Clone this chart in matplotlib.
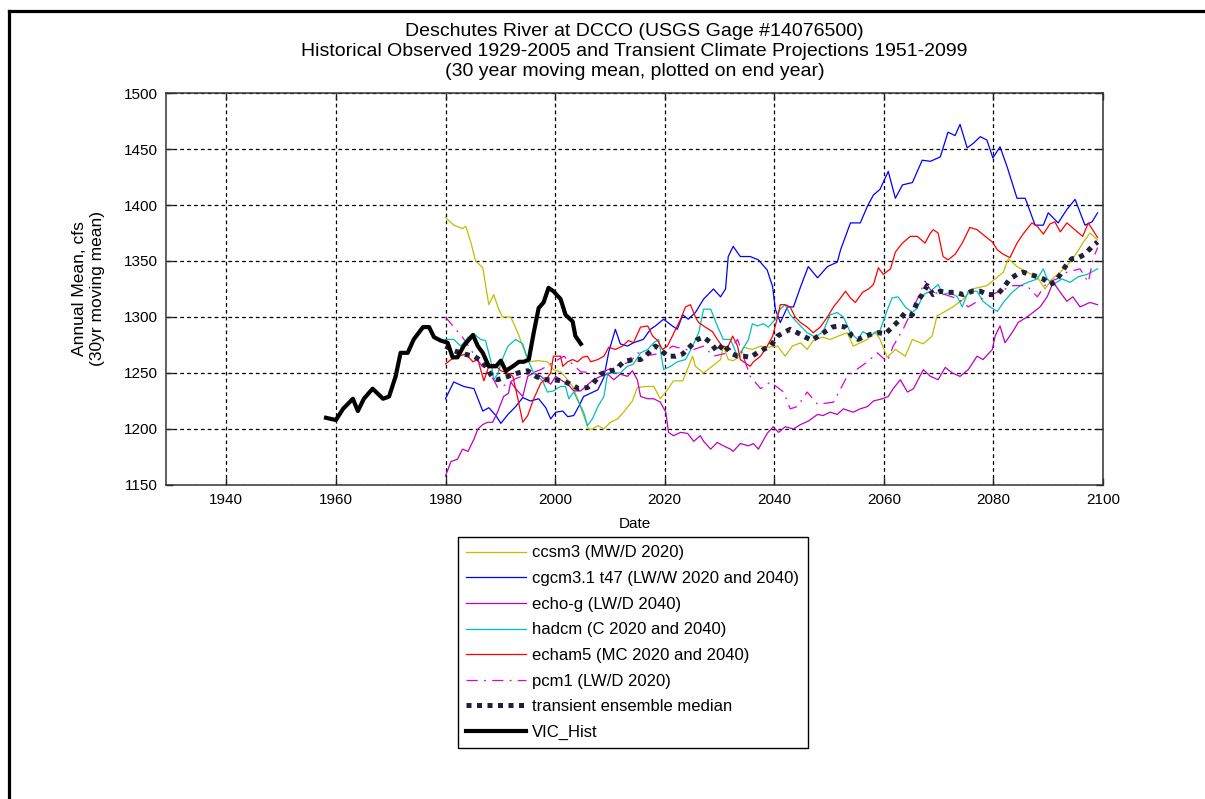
import matplotlib
matplotlib.use("Agg")
import matplotlib.pyplot as plt
from matplotlib.lines import Line2D

plt.rcParams['font.family'] = ['Liberation Sans', 'DejaVu Sans']

# ---- data (30 yr moving mean, cfs, plotted on end year) ----
vic_yr = [1958.2, 1960.0, 1961.3, 1963.1, 1964.0, 1965.1, 1966.7, 1968.6, 1969.7, 1970.9,
          1971.8, 1973.1, 1974.2, 1975.9, 1977.0, 1977.9, 1979.1, 1980.4, 1981.3, 1982.2,
          1983.3, 1985.0, 1985.9, 1986.8, 1987.9, 1989.2, 1990.1, 1991.0, 1992.3, 1993.4,
          1994.3, 1995.2, 1996.1, 1997.0, 1997.9, 1998.8, 1999.7, 2001.0, 2001.9, 2003.2,
          2003.7, 2004.7]
vic_q = [1210, 1208, 1218, 1227, 1216, 1227, 1236, 1227, 1229, 1247,
         1268, 1268, 1280, 1291, 1291, 1282, 1279, 1277, 1264, 1264,
         1274, 1284, 1274, 1268, 1256, 1256, 1261, 1252, 1256, 1260,
         1260, 1262, 1286, 1308, 1313, 1326, 1323, 1316, 1302, 1296,
         1283, 1276]

ccsm3_yr = [1980.0, 1981.5, 1983.1, 1983.7, 1984.6, 1985.5, 1986.8, 1987.3, 1987.9, 1988.8,
            1989.7, 1990.4, 1991.9, 1993.2, 1994.3, 1995.2, 1996.8, 1998.6, 1999.7, 2001.0,
            2002.3, 2003.2, 2004.1, 2005.2, 2006.1, 2006.8, 2007.8, 2008.9, 2010.1, 2011.4,
            2012.5, 2014.1, 2015.0, 2016.5, 2018.0, 2019.2, 2020.5, 2021.6, 2023.3, 2025.1,
            2025.6, 2027.1, 2028.4, 2030.2, 2030.7, 2031.6, 2032.5, 2033.8, 2034.4, 2036.0,
            2037.5, 2038.9, 2040.6, 2042.0, 2043.3, 2044.8, 2046.0, 2047.1, 2048.8, 2050.2,
            2051.7, 2053.3, 2054.4, 2055.7, 2057.0, 2058.4, 2059.3, 2060.6, 2062.1, 2063.9,
            2065.2, 2067.2, 2068.8, 2069.7, 2071.2, 2072.6, 2074.5, 2076.1, 2078.8, 2080.3,
            2081.8, 2082.7, 2084.3, 2086.1, 2088.0, 2089.4, 2090.7, 2092.2, 2094.0, 2095.3,
            2096.3, 2097.6, 2099.0]
ccsm3_q = [1389, 1382, 1379, 1381, 1367, 1350, 1344, 1329, 1311, 1320,
           1307, 1300, 1300, 1286, 1271, 1260, 1261, 1260, 1253, 1251,
           1244, 1238, 1227, 1212, 1200, 1200, 1203, 1200, 1206, 1209,
           1215, 1225, 1237, 1238, 1238, 1227, 1235, 1243, 1243, 1265,
           1256, 1250, 1255, 1262, 1274, 1262, 1261, 1265, 1273, 1271,
           1274, 1273, 1274, 1265, 1274, 1277, 1271, 1279, 1282, 1280,
           1283, 1286, 1274, 1277, 1280, 1287, 1280, 1264, 1271, 1265,
           1280, 1276, 1283, 1301, 1305, 1309, 1316, 1325, 1328, 1334,
           1340, 1352, 1345, 1340, 1336, 1325, 1334, 1340, 1349, 1358,
           1366, 1375, 1369]

cgcm_yr = [1980.0, 1981.5, 1983.3, 1985.2, 1986.8, 1987.9, 1989.2, 1990.1, 1991.4, 1992.8,
           1994.1, 1995.5, 1997.0, 1998.3, 1999.2, 2000.1, 2001.4, 2002.3, 2003.4, 2004.3,
           2005.2, 2006.5, 2007.8, 2008.9, 2009.8, 2011.0, 2011.9, 2013.2, 2014.3, 2016.1,
           2017.4, 2018.3, 2019.8, 2021.4, 2022.3, 2023.3, 2024.3, 2025.6, 2027.1, 2028.9,
           2030.2, 2031.1, 2031.6, 2032.5, 2033.8, 2035.6, 2037.1, 2038.7, 2039.7, 2040.2,
           2041.1, 2042.4, 2043.5, 2044.8, 2046.2, 2047.9, 2049.7, 2051.5, 2052.1, 2053.9,
           2055.7, 2057.0, 2058.1, 2059.3, 2060.8, 2062.1, 2063.4, 2065.2, 2067.0, 2068.5,
           2070.3, 2071.7, 2073.0, 2073.9, 2075.2, 2076.3, 2077.6, 2078.8, 2079.9, 2081.2,
           2082.5, 2084.3, 2085.8, 2087.6, 2089.1, 2090.0, 2091.8, 2093.4, 2094.9, 2096.7,
           2098.0, 2099.0]
cgcm_q = [1227, 1242, 1238, 1236, 1216, 1219, 1212, 1205, 1213, 1220,
          1228, 1225, 1227, 1219, 1209, 1215, 1216, 1211, 1212, 1220,
          1229, 1232, 1235, 1246, 1269, 1289, 1276, 1274, 1277, 1280,
          1289, 1292, 1298, 1292, 1289, 1302, 1298, 1304, 1316, 1325,
          1318, 1325, 1354, 1363, 1354, 1354, 1351, 1342, 1327, 1307,
          1295, 1309, 1309, 1327, 1345, 1335, 1345, 1349, 1360, 1384,
          1384, 1399, 1409, 1414, 1430, 1406, 1418, 1420, 1440, 1439,
          1443, 1465, 1462, 1472, 1451, 1455, 1461, 1458, 1442, 1452,
          1434, 1406, 1406, 1382, 1382, 1393, 1384, 1396, 1405, 1382,
          1385, 1393]

echog_yr = [1980.0, 1981.0, 1982.2, 1983.1, 1984.1, 1985.2, 1985.9, 1986.8, 1987.7, 1988.6,
            1989.5, 1990.6, 1991.5, 1991.9, 1992.8, 1994.1, 1995.0, 1996.1, 1997.4, 1999.2,
            2000.1, 2001.0, 2002.3, 2003.4, 2004.7, 2005.6, 2007.0, 2008.3, 2009.6, 2010.7,
            2011.9, 2013.2, 2014.1, 2015.0, 2015.6, 2016.9, 2018.0, 2019.2, 2020.2, 2020.7,
            2021.6, 2022.9, 2024.2, 2025.3, 2026.5, 2027.1, 2028.4, 2029.6, 2030.7, 2032.0,
            2032.5, 2033.8, 2035.3, 2036.2, 2037.1, 2038.7, 2039.8, 2040.8, 2042.0, 2043.5,
            2044.8, 2046.2, 2047.9, 2048.9, 2050.2, 2051.5, 2052.6, 2054.4, 2055.7, 2057.0,
            2058.1, 2059.7, 2060.8, 2061.7, 2063.0, 2064.3, 2065.4, 2067.2, 2068.5, 2069.9,
            2071.2, 2072.5, 2073.9, 2075.4, 2077.0, 2078.1, 2079.8, 2080.3, 2081.2, 2082.1,
            2083.4, 2084.5, 2086.1, 2087.2, 2088.5, 2089.8, 2090.9, 2092.5, 2093.4, 2094.5,
            2095.8, 2097.6, 2099.0]
echog_q = [1158, 1171, 1173, 1182, 1180, 1191, 1200, 1204, 1206, 1206,
           1215, 1229, 1232, 1242, 1236, 1229, 1247, 1250, 1247, 1240,
           1247, 1244, 1240, 1234, 1234, 1238, 1244, 1247, 1249, 1244,
           1249, 1247, 1252, 1244, 1229, 1227, 1227, 1224, 1215, 1197,
           1194, 1197, 1196, 1189, 1194, 1189, 1182, 1188, 1185, 1182,
           1180, 1187, 1185, 1187, 1182, 1196, 1202, 1197, 1202, 1200,
           1204, 1207, 1213, 1212, 1215, 1213, 1218, 1215, 1218, 1220,
           1225, 1227, 1229, 1236, 1244, 1233, 1236, 1253, 1247, 1244,
           1255, 1250, 1247, 1253, 1265, 1262, 1271, 1283, 1292, 1277,
           1286, 1295, 1300, 1304, 1309, 1318, 1331, 1320, 1314, 1318,
           1309, 1313, 1311]

hadcm_yr = [1980.0, 1981.5, 1982.8, 1984.1, 1985.2, 1986.4, 1987.3, 1988.3, 1988.8, 1989.5,
            1990.6, 1991.4, 1992.8, 1994.1, 1995.0, 1996.1, 1997.7, 1998.6, 1999.7, 2001.0,
            2001.9, 2002.5, 2003.4, 2004.3, 2005.2, 2005.9, 2006.8, 2007.8, 2008.9, 2009.6,
            2010.7, 2011.9, 2013.2, 2014.3, 2015.6, 2016.9, 2018.0, 2018.9, 2019.8, 2021.1,
            2022.3, 2023.8, 2025.1, 2026.2, 2027.1, 2028.4, 2029.6, 2030.7, 2032.0, 2033.3,
            2034.2, 2035.3, 2036.0, 2036.9, 2038.0, 2038.9, 2040.2, 2041.1, 2042.0, 2042.9,
            2044.2, 2046.0, 2047.5, 2048.9, 2050.2, 2051.5, 2052.6, 2053.9, 2055.2, 2056.2,
            2057.5, 2058.8, 2059.3, 2060.6, 2061.5, 2062.6, 2063.9, 2065.2, 2066.1, 2067.2,
            2068.5, 2069.9, 2070.8, 2072.1, 2073.4, 2074.3, 2075.4, 2077.0, 2078.1, 2079.4,
            2080.7, 2081.8, 2083.4, 2084.9, 2086.3, 2088.0, 2089.1, 2089.8, 2090.9, 2092.5,
            2094.0, 2095.5, 2097.1, 2099.0]
hadcm_q = [1280, 1280, 1274, 1282, 1285, 1280, 1279, 1260, 1244, 1249,
           1265, 1274, 1280, 1276, 1262, 1250, 1243, 1233, 1234, 1238,
           1238, 1227, 1233, 1224, 1215, 1203, 1209, 1220, 1229, 1250,
           1250, 1250, 1256, 1258, 1268, 1271, 1277, 1280, 1253, 1256,
           1260, 1262, 1274, 1286, 1307, 1307, 1292, 1280, 1280, 1265,
           1271, 1280, 1294, 1292, 1294, 1291, 1298, 1307, 1311, 1302,
           1295, 1286, 1282, 1287, 1302, 1304, 1300, 1286, 1280, 1287,
           1283, 1287, 1288, 1306, 1317, 1318, 1309, 1304, 1308, 1320,
           1323, 1329, 1320, 1322, 1318, 1309, 1323, 1323, 1314, 1309,
           1305, 1313, 1322, 1328, 1331, 1334, 1343, 1334, 1329, 1334,
           1331, 1336, 1338, 1343]

echam5_yr = [1980.0, 1981.0, 1982.4, 1983.7, 1985.0, 1985.9, 1987.0, 1987.9, 1988.8, 1990.1,
             1991.4, 1992.3, 1993.2, 1994.1, 1995.0, 1996.1, 1997.4, 1998.6, 1999.2, 1999.7,
             2001.0, 2001.4, 2002.3, 2003.2, 2004.1, 2005.0, 2005.9, 2006.5, 2007.8, 2008.9,
             2009.8, 2011.0, 2012.3, 2013.4, 2014.3, 2015.6, 2016.9, 2017.8, 2018.7, 2019.6,
             2020.5, 2021.6, 2022.9, 2023.8, 2024.7, 2025.6, 2026.2, 2027.4, 2028.7, 2029.6,
             2030.5, 2031.5, 2032.4, 2033.3, 2033.8, 2034.4, 2035.6, 2036.2, 2037.5, 2038.7,
             2039.7, 2040.6, 2041.1, 2042.0, 2042.9, 2043.8, 2044.8, 2046.0, 2047.1, 2048.4,
             2049.7, 2050.8, 2052.1, 2053.0, 2053.9, 2054.8, 2056.1, 2057.2, 2058.1, 2059.0,
             2059.9, 2061.2, 2062.1, 2063.4, 2064.8, 2066.1, 2067.5, 2068.5, 2069.0, 2069.9,
             2070.8, 2071.7, 2073.0, 2074.3, 2075.7, 2077.0, 2078.5, 2079.8, 2080.7, 2081.8,
             2083.0, 2084.3, 2085.4, 2087.0, 2088.0, 2089.1, 2090.3, 2091.2, 2092.2, 2093.4,
             2095.3, 2096.3, 2097.3, 2099.0]
echam5_q = [1258, 1262, 1265, 1267, 1260, 1262, 1243, 1256, 1258, 1252,
            1250, 1247, 1227, 1206, 1212, 1227, 1241, 1246, 1250, 1265,
            1265, 1256, 1260, 1262, 1260, 1264, 1265, 1260, 1262, 1265,
            1273, 1271, 1274, 1279, 1277, 1291, 1292, 1283, 1279, 1271,
            1274, 1285, 1298, 1309, 1311, 1300, 1295, 1291, 1287, 1280,
            1274, 1273, 1283, 1274, 1262, 1260, 1256, 1260, 1265, 1274,
            1283, 1300, 1311, 1311, 1309, 1300, 1295, 1291, 1286, 1291,
            1300, 1309, 1317, 1323, 1317, 1313, 1322, 1325, 1329, 1344,
            1338, 1343, 1358, 1366, 1372, 1372, 1366, 1375, 1378, 1375,
            1354, 1351, 1356, 1366, 1380, 1378, 1372, 1367, 1360, 1356,
            1353, 1366, 1374, 1384, 1381, 1374, 1383, 1385, 1376, 1384,
            1376, 1372, 1384, 1371]

pcm1_yr = [1980.0, 1981.5, 1983.1, 1985.0, 1986.8, 1988.8, 1989.5, 1990.4, 1992.8, 1997.4,
           2001.6, 2004.7, 2008.3, 2011.0, 2013.8, 2015.0, 2017.4, 2019.8, 2021.4, 2024.7,
           2027.1, 2028.9, 2031.5, 2033.3, 2035.6, 2037.5, 2039.3, 2041.7, 2042.9, 2044.2,
           2046.0, 2047.9, 2050.8, 2053.3, 2057.0, 2058.8, 2060.6, 2061.7, 2063.5, 2066.3,
           2067.5, 2068.8, 2071.2, 2073.6, 2075.4, 2078.1, 2080.7, 2083.6, 2086.1, 2088.0,
           2089.8, 2091.6, 2093.4, 2095.8, 2097.3, 2098.2, 2099.0]
pcm1_q = [1300, 1291, 1282, 1268, 1255, 1244, 1237, 1238, 1245, 1253,
          1265, 1251, 1250, 1256, 1260, 1268, 1266, 1268, 1274, 1270,
          1274, 1265, 1268, 1280, 1247, 1236, 1242, 1233, 1218, 1220,
          1233, 1222, 1224, 1247, 1260, 1268, 1260, 1274, 1289, 1318,
          1332, 1322, 1320, 1316, 1309, 1317, 1322, 1328, 1328, 1318,
          1331, 1334, 1340, 1343, 1331, 1352, 1362]

median_yr = [1980.0, 1981.5, 1983.3, 1985.2, 1986.8, 1987.7, 1988.6, 1989.5, 1991.4, 1993.2,
             1995.0, 1996.5, 1997.9, 1999.7, 2001.4, 2002.8, 2004.3, 2005.9, 2007.0, 2008.3,
             2009.6, 2011.0, 2012.5, 2014.1, 2015.6, 2017.1, 2018.3, 2019.2, 2020.5, 2022.0,
             2023.3, 2024.7, 2026.0, 2027.1, 2028.4, 2029.6, 2030.7, 2032.0, 2033.3, 2034.4,
             2035.6, 2036.9, 2038.0, 2039.3, 2040.6, 2041.7, 2042.9, 2044.2, 2045.7, 2046.9,
             2048.0, 2049.3, 2050.6, 2051.7, 2053.0, 2054.2, 2055.3, 2056.6, 2057.9, 2059.0,
             2060.3, 2061.5, 2062.6, 2063.9, 2065.2, 2066.1, 2067.0, 2067.9, 2069.0, 2070.3,
             2071.6, 2073.0, 2074.5, 2076.1, 2077.6, 2079.0, 2080.7, 2081.8, 2083.0, 2084.3,
             2085.4, 2086.7, 2088.0, 2089.1, 2090.3, 2091.2, 2092.2, 2093.1, 2094.3, 2095.5,
             2096.7, 2098.0, 2099.0]
median_q = [1274, 1270, 1267, 1265, 1260, 1253, 1246, 1244, 1247, 1250,
            1252, 1247, 1244, 1244, 1243, 1240, 1236, 1237, 1241, 1249,
            1251, 1253, 1260, 1262, 1262, 1268, 1274, 1271, 1265, 1265,
            1267, 1274, 1280, 1282, 1277, 1269, 1276, 1268, 1265, 1265,
            1264, 1268, 1271, 1274, 1283, 1286, 1289, 1286, 1282, 1279,
            1283, 1287, 1291, 1292, 1291, 1283, 1280, 1283, 1285, 1286,
            1285, 1291, 1296, 1304, 1302, 1314, 1320, 1328, 1320, 1323,
            1322, 1322, 1320, 1323, 1323, 1320, 1320, 1326, 1334, 1338,
            1340, 1338, 1336, 1334, 1329, 1331, 1338, 1345, 1352, 1353,
            1356, 1363, 1367]

labels = ["ccsm3 (MW/D 2020)",
          "cgcm3.1 t47 (LW/W 2020 and 2040)",
          "echo-g (LW/D 2040)",
          "hadcm (C 2020 and 2040)",
          "echam5 (MC 2020 and 2040)",
          "pcm1 (LW/D 2020)",
          "transient ensemble median",
          "VIC_Hist"]

xticks = [1940, 1960, 1980, 2000, 2020, 2040, 2060, 2080, 2100]
yticks = [1150, 1200, 1250, 1300, 1350, 1400, 1450, 1500]

# ---- figure ----
fig = plt.figure(figsize=(12.05, 7.99), dpi=100)
ax = fig.add_axes([0.1378, 0.3930, 0.7776, 0.4906])

thin = 0.9
ax.plot(ccsm3_yr, ccsm3_q, color='#BFBF00', lw=thin, label=labels[0])
ax.plot(cgcm_yr, cgcm_q, color='#0000FF', lw=thin, label=labels[1])
ax.plot(echog_yr, echog_q, color='#BF00BF', lw=thin, label=labels[2])
ax.plot(hadcm_yr, hadcm_q, color='#00BFBF', lw=thin, label=labels[3])
ax.plot(echam5_yr, echam5_q, color='#FF0000', lw=thin, label=labels[4])
ax.plot(pcm1_yr, pcm1_q, color='#DD00DD', lw=thin, linestyle=(0, (9, 5, 1.5, 5)),
        label=labels[5])
ax.plot(median_yr, median_q, color='#20203a', lw=3.6, linestyle=(0, (1, 1.1)),
        dash_capstyle='butt', label=labels[6])
ax.plot(vic_yr, vic_q, color='black', lw=3.0, label=labels[7])

ax.set_xlim(1929, 2100)
ax.set_ylim(1150, 1500)
ax.set_xticks(xticks)
ax.set_yticks(yticks)
ax.tick_params(direction='in', length=5, width=1, top=True, right=True,
               labelsize=11, pad=6, colors='#222222', labelcolor='black')
ax.grid(True, color='black', linestyle=(0, (3, 2.5)), linewidth=0.9)
ax.set_axisbelow(True)
for sp in ax.spines.values():
    sp.set_color('#333333')
    sp.set_linewidth(1.1)

ax.set_title("Deschutes River at DCCO (USGS Gage #14076500)\n"
             "Historical Observed 1929-2005 and Transient Climate Projections 1951-2099\n"
             "(30 year moving mean, plotted on end year)",
             fontsize=14, linespacing=1.26, pad=12)
ax.set_xlabel("Date", fontsize=11, labelpad=7)
ax.text(-0.083, 0.5, "Annual Mean, cfs\n(30yr moving mean)", transform=ax.transAxes,
        rotation=90, ha='center', va='center', fontsize=12.5, linespacing=1.25)

leg = ax.legend(loc='upper left', bbox_to_anchor=(458 / 1205, 1 - 537 / 799),
                bbox_transform=fig.transFigure, fontsize=12, handlelength=3.6,
                handletextpad=0.35, labelspacing=0.64, borderpad=0.5,
                borderaxespad=0, fancybox=False, framealpha=1)
leg.get_frame().set_edgecolor('black')
leg.get_frame().set_linewidth(1.0)

# outer border of the screenshot (top and left edges only)
x0 = 8.5 / 1205
y0 = 1 - 10.5 / 799
fig.add_artist(Line2D([x0, 1.0], [y0, y0], transform=fig.transFigure, color='black', lw=2.3))
fig.add_artist(Line2D([x0, x0], [0.0, y0], transform=fig.transFigure, color='black', lw=2.3))

fig.savefig("out.png", dpi=100)
